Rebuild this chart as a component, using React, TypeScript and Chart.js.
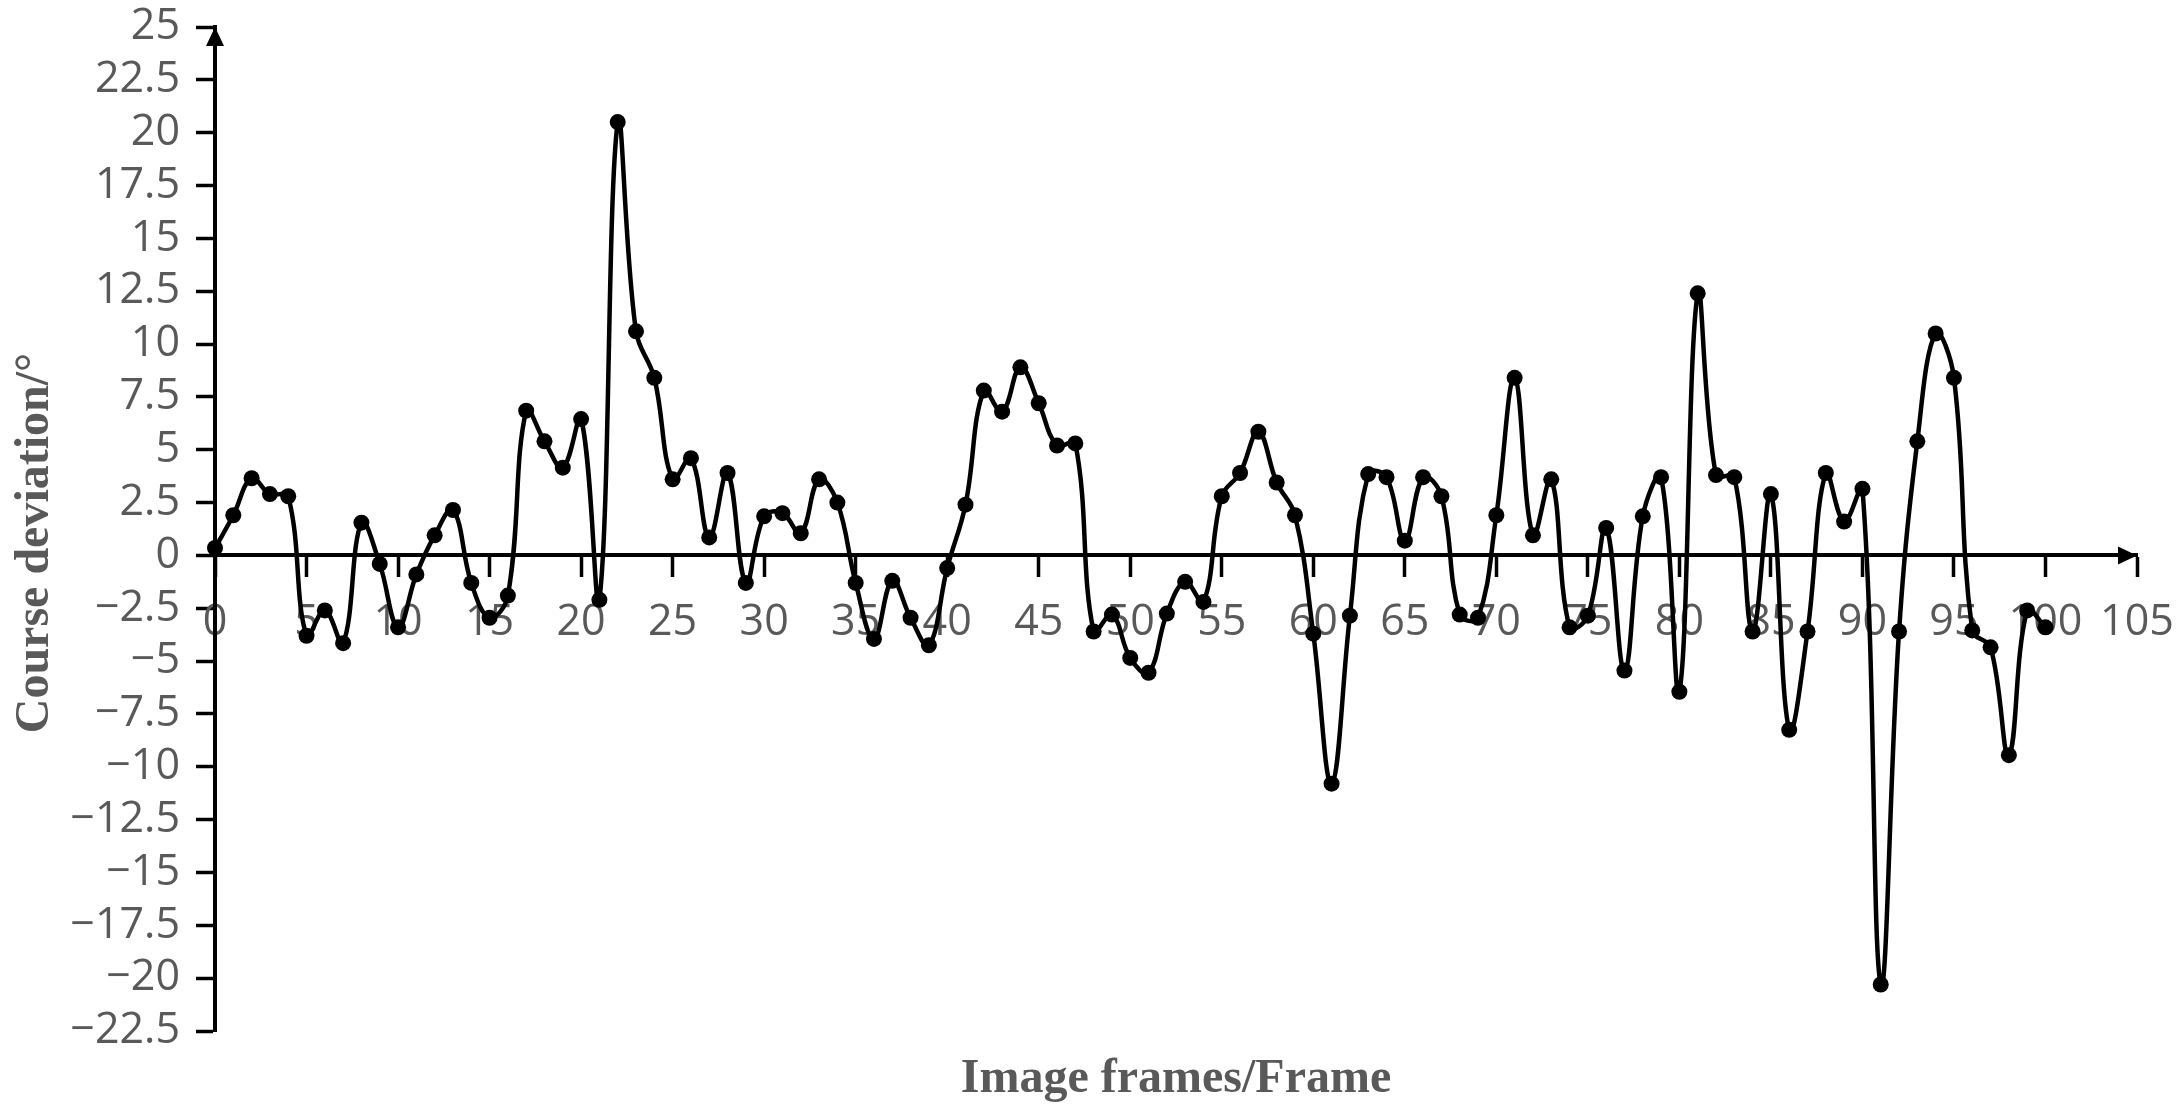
import React, { useEffect, useRef } from 'react';
import { Chart, registerables } from 'chart.js';

Chart.register(...registerables);

// Course deviation (°) for image frames 0..100
const deviation: number[] = [
  0.35, 1.9, 3.65, 2.9, 2.8, -3.8, -2.6, -4.15, 1.55, -0.4,
  -3.4, -0.9, 0.95, 2.15, -1.3, -2.95, -1.9, 6.85, 5.4, 4.15,
  6.45, -2.1, 20.5, 10.6, 8.4, 3.6, 4.6, 0.85, 3.9, -1.3,
  1.85, 2.0, 1.05, 3.6, 2.5, -1.3, -3.95, -1.2, -2.95, -4.25,
  -0.6, 2.4, 7.8, 6.8, 8.9, 7.2, 5.2, 5.3, -3.6, -2.8,
  -4.85, -5.55, -2.75, -1.25, -2.2, 2.8, 3.9, 5.85, 3.45, 1.9,
  -3.7, -10.8, -2.85, 3.85, 3.7, 0.7, 3.7, 2.8, -2.8, -2.95,
  1.9, 8.4, 0.95, 3.6, -3.4, -2.85, 1.3, -5.45, 1.85, 3.7,
  -6.45, 12.4, 3.8, 3.7, -3.6, 2.9, -8.25, -3.6, 3.9, 1.6,
  3.15, -20.3, -3.6, 5.4, 10.5, 8.4, -3.55, -4.35, -9.45, -2.6,
  -3.4,
];

const xTickValues: number[] = [0, 5, 10, 15, 20, 25, 30, 35, 40, 45, 50, 55, 60, 65, 70, 75, 80, 85, 90, 95, 100, 105];
const yTickValues: number[] = [-22.5, -20, -17.5, -15, -12.5, -10, -7.5, -5, -2.5, 0, 2.5, 5, 7.5, 10, 12.5, 15, 17.5, 20, 22.5, 25];

const xTitle = 'Image frames/Frame';
const yTitle = 'Course deviation/°';

const LABEL_COLOR = '#595959';
const TICK_FONT = { family: '"Open Sans", "DejaVu Sans", sans-serif', size: 43 };

const fmt = (v: number) => (v < 0 ? '\u2212' : '') + String(Math.abs(v));

const decorPlugin = {
  id: 'decor',
  afterDraw(chart: any) {
    const { ctx, scales } = chart;
    const xs = scales.x;
    const ys = scales.y;
    const x0 = xs.getPixelForValue(0);
    const xEnd = xs.getPixelForValue(105);
    const y0 = ys.getPixelForValue(0);
    const yTop = ys.getPixelForValue(25);
    ctx.save();
    ctx.fillStyle = '#000';
    // y arrow
    ctx.beginPath();
    ctx.moveTo(x0, yTop);
    ctx.lineTo(x0 - 9, yTop + 19);
    ctx.lineTo(x0 + 9, yTop + 19);
    ctx.closePath();
    ctx.fill();
    // x arrow
    ctx.beginPath();
    ctx.moveTo(xEnd, y0);
    ctx.lineTo(xEnd - 19, y0 - 9);
    ctx.lineTo(xEnd - 19, y0 + 9);
    ctx.closePath();
    ctx.fill();
    // titles
    ctx.fillStyle = LABEL_COLOR;
    ctx.font = 'bold 48px "Liberation Serif", "Times New Roman", serif';
    ctx.textAlign = 'center';
    ctx.textBaseline = 'alphabetic';
    ctx.fillText(xTitle, (chart.chartArea.left + chart.chartArea.right) / 2, 1092);
    ctx.translate(48, 543);
    ctx.rotate(-Math.PI / 2);
    ctx.fillText(yTitle, 0, 0);
    ctx.restore();
  },
};

export default function App() {
  const canvasRef = useRef<HTMLCanvasElement | null>(null);

  useEffect(() => {
    const canvas = canvasRef.current;
    if (!canvas) return;
    const points = deviation.map((v, i) => ({ x: i, y: v }));
    const chart = new Chart(canvas, {
      type: 'line',
      data: {
        datasets: [
          {
            data: points,
            borderColor: '#000',
            backgroundColor: '#000',
            borderWidth: 4.5,
            pointRadius: 8,
            pointBorderWidth: 0,
            pointBackgroundColor: '#000',
            tension: 0.4,
            fill: false,
            clip: false as any,
          },
        ],
      },
      options: {
        animation: false,
        responsive: false,
        devicePixelRatio: 1,
        layout: { padding: { left: 0, top: 27, right: 45, bottom: 83 } },
        plugins: {
          legend: { display: false },
          tooltip: { enabled: false },
          title: { display: false },
        },
        scales: {
          x: {
            type: 'linear',
            position: { y: 0 } as any,
            min: 0,
            max: 105,
            afterBuildTicks: (scale: any) => {
              scale.ticks = xTickValues.map((v) => ({ value: v }));
            },
            afterFit: (scale: any) => {
              scale.paddingLeft = 0;
              scale.paddingRight = 0;
            },
            ticks: {
              color: LABEL_COLOR,
              font: TICK_FONT,
              padding: 22,
              maxRotation: 0,
              autoSkip: false,
              callback: (v: any) => fmt(Number(v)),
            },
            grid: {
              drawOnChartArea: false,
              drawTicks: true,
              tickLength: 20,
              tickWidth: 3.5,
              tickColor: '#000',
              color: '#000',
            },
            border: { display: true, color: '#000', width: 4 },
          },
          y: {
            type: 'linear',
            position: 'left',
            min: -22.5,
            max: 25,
            afterBuildTicks: (scale: any) => {
              scale.ticks = yTickValues.map((v) => ({ value: v }));
            },
            afterFit: (scale: any) => {
              scale.width = 215;
              scale.paddingTop = 0;
              scale.paddingBottom = 0;
            },
            ticks: {
              color: LABEL_COLOR,
              font: TICK_FONT,
              padding: 16,
              autoSkip: false,
              callback: (v: any) => fmt(Number(v)),
            },
            grid: {
              drawOnChartArea: false,
              drawTicks: true,
              tickLength: 19,
              tickWidth: 3.5,
              tickColor: '#000',
              color: '#000',
            },
            border: { display: true, color: '#000', width: 4 },
          },
        },
      },
      plugins: [decorPlugin],
    });
    return () => chart.destroy();
  }, []);

  return (
    <div style={{ position: 'absolute', left: 0, top: 0, width: 2182, height: 1114, background: '#fff' }}>
      <canvas ref={canvasRef} width={2182} height={1114} style={{ width: 2182, height: 1114, display: 'block' }} />
    </div>
  );
}
